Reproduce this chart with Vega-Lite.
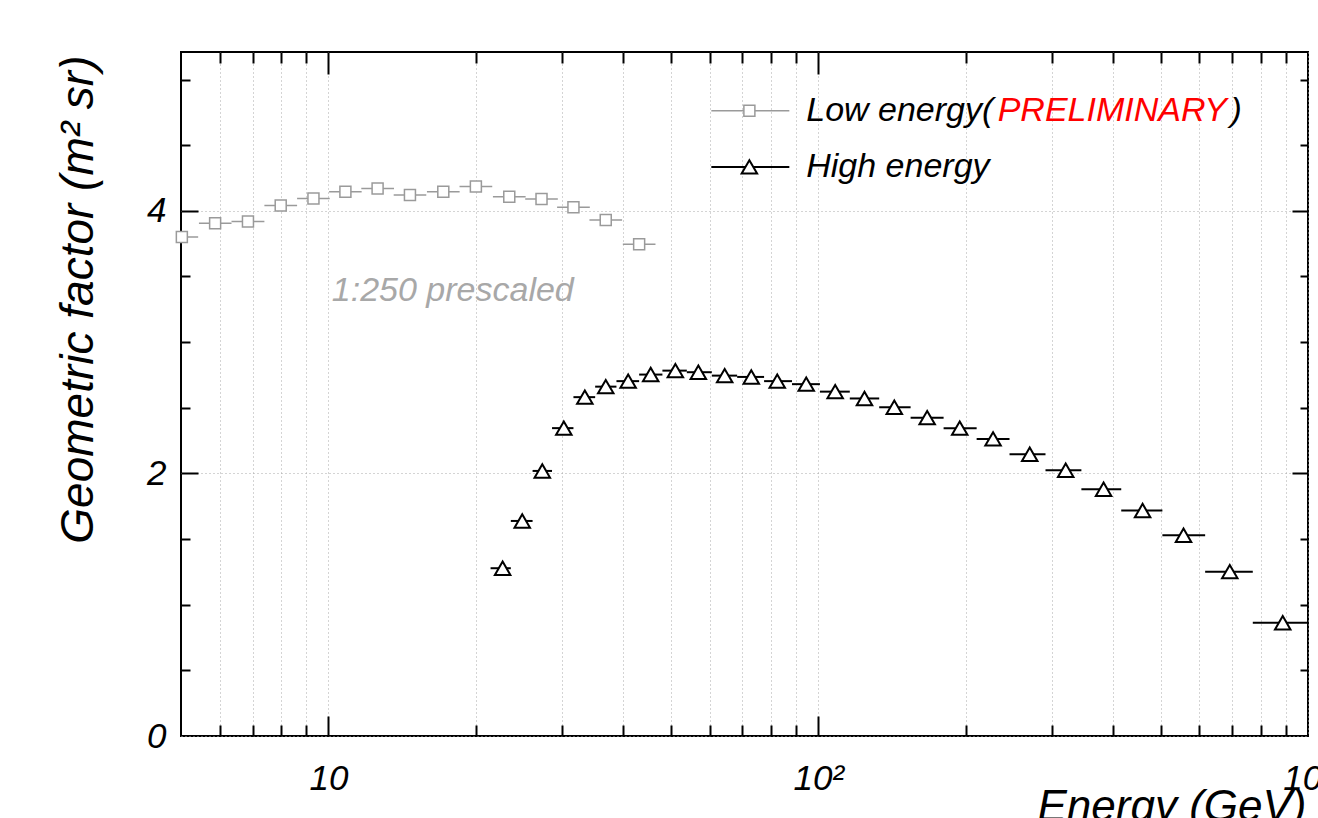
{
  "$schema": "https://vega.github.io/schema/vega-lite/v6.json",
  "autosize": {"type": "none"},
  "padding": {"left": 181, "top": 52, "right": 10, "bottom": 82},
  "width": 1127,
  "height": 684,
  "background": "white",
  "datasets": {
    "pts": [
      {"series": "Low", "e": 5.02, "lo": 4.65, "hi": 5.42, "g": 3.80},
      {"series": "Low", "e": 5.87, "lo": 5.44, "hi": 6.34, "g": 3.906},
      {"series": "Low", "e": 6.85, "lo": 6.34, "hi": 7.40, "g": 3.918},
      {"series": "Low", "e": 7.99, "lo": 7.40, "hi": 8.63, "g": 4.040},
      {"series": "Low", "e": 9.32, "lo": 8.63, "hi": 10.06, "g": 4.094},
      {"series": "Low", "e": 10.83, "lo": 10.03, "hi": 11.69, "g": 4.145},
      {"series": "Low", "e": 12.60, "lo": 11.67, "hi": 13.61, "g": 4.170},
      {"series": "Low", "e": 14.67, "lo": 13.59, "hi": 15.84, "g": 4.120},
      {"series": "Low", "e": 17.16, "lo": 15.89, "hi": 18.53, "g": 4.145},
      {"series": "Low", "e": 20.00, "lo": 18.52, "hi": 21.60, "g": 4.185},
      {"series": "Low", "e": 23.40, "lo": 21.67, "hi": 25.27, "g": 4.107},
      {"series": "Low", "e": 27.23, "lo": 25.22, "hi": 29.40, "g": 4.091},
      {"series": "Low", "e": 31.64, "lo": 29.30, "hi": 34.17, "g": 4.028},
      {"series": "Low", "e": 36.83, "lo": 34.11, "hi": 39.77, "g": 3.931},
      {"series": "Low", "e": 43.09, "lo": 39.91, "hi": 46.53, "g": 3.746},
      {"series": "High", "e": 22.68, "lo": 21.43, "hi": 23.57, "g": 1.278},
      {"series": "High", "e": 24.87, "lo": 23.57, "hi": 26.11, "g": 1.638},
      {"series": "High", "e": 27.33, "lo": 26.11, "hi": 28.61, "g": 2.019},
      {"series": "High", "e": 30.24, "lo": 28.61, "hi": 31.64, "g": 2.345},
      {"series": "High", "e": 33.38, "lo": 31.64, "hi": 35.04, "g": 2.581},
      {"series": "High", "e": 36.83, "lo": 35.04, "hi": 38.73, "g": 2.661},
      {"series": "High", "e": 40.92, "lo": 38.73, "hi": 43.09, "g": 2.703},
      {"series": "High", "e": 45.50, "lo": 43.09, "hi": 48.07, "g": 2.753},
      {"series": "High", "e": 51.09, "lo": 48.07, "hi": 53.92, "g": 2.783},
      {"series": "High", "e": 56.92, "lo": 53.92, "hi": 60.64, "g": 2.771},
      {"series": "High", "e": 64.42, "lo": 60.64, "hi": 68.31, "g": 2.745},
      {"series": "High", "e": 73.00, "lo": 68.31, "hi": 77.53, "g": 2.735},
      {"series": "High", "e": 82.48, "lo": 77.53, "hi": 88.40, "g": 2.703},
      {"series": "High", "e": 94.52, "lo": 88.40, "hi": 100.8, "g": 2.680},
      {"series": "High", "e": 108.3, "lo": 100.8, "hi": 116.0, "g": 2.623},
      {"series": "High", "e": 124.3, "lo": 116.0, "hi": 133.2, "g": 2.571},
      {"series": "High", "e": 143.0, "lo": 133.2, "hi": 154.4, "g": 2.504},
      {"series": "High", "e": 166.9, "lo": 154.4, "hi": 180.3, "g": 2.425},
      {"series": "High", "e": 194.5, "lo": 180.3, "hi": 210.6, "g": 2.345},
      {"series": "High", "e": 227.5, "lo": 210.6, "hi": 245.8, "g": 2.263},
      {"series": "High", "e": 270.3, "lo": 245.8, "hi": 291.1, "g": 2.146},
      {"series": "High", "e": 320.1, "lo": 291.1, "hi": 344.6, "g": 2.024},
      {"series": "High", "e": 382.5, "lo": 344.6, "hi": 415.6, "g": 1.880},
      {"series": "High", "e": 459.5, "lo": 415.6, "hi": 504.3, "g": 1.717},
      {"series": "High", "e": 557.0, "lo": 504.3, "hi": 616.6, "g": 1.529},
      {"series": "High", "e": 692.3, "lo": 616.6, "hi": 771.4, "g": 1.252},
      {"series": "High", "e": 888.0, "lo": 771.4, "hi": 1000, "g": 0.863}
    ],
    "legend": [
      {"series": "Low", "lx1": 60.5, "lx2": 87.3, "lxm": 72.35, "ly": 4.762},
      {"series": "High", "lx1": 60.5, "lx2": 87.3, "lxm": 72.35, "ly": 4.335}
    ],
    "legtext": [
      {"lx": 94.52, "ly": 4.762, "t": "Low energy(", "part": "label"},
      {"lx": 232.5, "ly": 4.762, "t": "PRELIMINARY", "part": "flag"},
      {"lx": 695.0, "ly": 4.762, "t": ")", "part": "label"},
      {"lx": 94.52, "ly": 4.335, "t": "High energy", "part": "label"}
    ],
    "note": [
      {"nx": 10.16, "ny": 3.39, "t": "1:250 prescaled"}
    ]
  },
  "resolve": {"axis": {"x": "independent", "y": "independent"}},
  "layer": [
    {
      "data": {"name": "pts"},
      "mark": {"type": "rule", "clip": true},
      "encoding": {
        "x": {"field": "lo", "type": "quantitative",
          "scale": {"type": "log", "domain": [5, 1000], "nice": false},
          "axis": {"orient": "bottom", "values": [10, 100, 1000], "ticks": false, "labels": true,
            "labelExpr": "datum.value == 10 ? '10' : datum.value == 100 ? '10²' : '10³'",
            "labelPadding": 25, "labelBaseline": "top", "labelFlush": false, "labelOverlap": false, "labelBound": false,
            "grid": true, "title": "Energy (GeV)", "titleX": 1125, "titleY": 84, "titleAlign": "right", "titleBaseline": "alphabetic"}},
        "x2": {"field": "hi"},
        "y": {"field": "g", "type": "quantitative",
          "scale": {"domain": [0, 5.21], "nice": false, "zero": false},
          "axis": {"orient": "left", "values": [0, 2, 4], "ticks": false, "labels": true,
            "labelPadding": 15, "labelAlign": "right", "labelBaseline": "middle", "labelOverlap": false, "labelFlush": false, "labelBound": false,
            "grid": true, "title": "Geometric factor (m²  sr)", "titleFontSize": 46, "titleAngle": -90, "titleX": -89, "titleY": 3, "titleAlign": "right", "titleBaseline": "alphabetic"}},
        "stroke": {"field": "series", "type": "nominal", "scale": {"domain": ["Low", "High"], "range": ["#9a9a9a", "#000000"]}, "legend": null},
        "strokeWidth": {"field": "series", "type": "nominal", "scale": {"domain": ["Low", "High"], "range": [1.5, 2]}, "legend": null}
      }
    },
    {
      "data": {"name": "pts"},
      "mark": {"type": "point", "filled": true, "fill": "white", "opacity": 1},
      "encoding": {
        "x": {"field": "e", "type": "quantitative",
          "scale": {"type": "log", "domain": [5, 1000], "nice": false},
          "axis": {"orient": "bottom", "values": [10, 100], "tickSize": -20, "labels": false, "grid": false, "title": null}},
        "y": {"field": "g", "type": "quantitative",
          "scale": {"domain": [0, 5.21], "nice": false, "zero": false},
          "axis": {"orient": "left", "values": [2, 4], "tickSize": -17, "labels": false, "grid": false, "title": null}},
        "stroke": {"field": "series", "type": "nominal", "scale": {"domain": ["Low", "High"], "range": ["#9a9a9a", "#000000"]}, "legend": null},
        "strokeWidth": {"field": "series", "type": "nominal", "scale": {"domain": ["Low", "High"], "range": [1.5, 2]}, "legend": null},
        "shape": {"field": "series", "type": "nominal", "scale": {"domain": ["Low", "High"], "range": ["square", "triangle-up"]}, "legend": null},
        "size": {"field": "series", "type": "nominal", "scale": {"domain": ["Low", "High"], "range": [121, 240]}, "legend": null}
      }
    },
    {
      "data": {"name": "note"},
      "mark": {"type": "text", "align": "left", "baseline": "middle", "font": "Liberation Sans", "fontStyle": "italic", "fontSize": 34, "color": "#a8a8a8"},
      "encoding": {
        "x": {"field": "nx", "type": "quantitative",
          "scale": {"type": "log", "domain": [5, 1000], "nice": false},
          "axis": {"orient": "bottom", "values": [6, 7, 8, 9, 20, 30, 40, 50, 60, 70, 80, 90, 200, 300, 400, 500, 600, 700, 800, 900], "tickSize": -11, "labels": false, "grid": true, "title": null}},
        "y": {"field": "ny", "type": "quantitative",
          "scale": {"domain": [0, 5.21], "nice": false, "zero": false},
          "axis": {"orient": "left", "values": [0.5, 1, 1.5, 2.5, 3, 3.5, 4.5, 5], "tickSize": -9, "labels": false, "grid": false, "title": null}},
        "text": {"field": "t"}
      }
    },
    {
      "data": {"name": "legend"},
      "mark": {"type": "rule"},
      "encoding": {
        "x": {"field": "lx1", "type": "quantitative",
          "scale": {"type": "log", "domain": [5, 1000], "nice": false},
          "axis": {"orient": "top", "values": [10, 100], "tickSize": -22, "labels": false, "grid": false, "title": null}},
        "x2": {"field": "lx2"},
        "y": {"field": "ly", "type": "quantitative",
          "scale": {"domain": [0, 5.21], "nice": false, "zero": false},
          "axis": {"orient": "right", "values": [2, 4], "tickSize": -16, "labels": false, "grid": false, "title": null}},
        "stroke": {"field": "series", "type": "nominal", "scale": {"domain": ["Low", "High"], "range": ["#9a9a9a", "#000000"]}, "legend": null},
        "strokeWidth": {"field": "series", "type": "nominal", "scale": {"domain": ["Low", "High"], "range": [1.5, 2]}, "legend": null}
      }
    },
    {
      "data": {"name": "legend"},
      "mark": {"type": "point", "filled": true, "fill": "white", "opacity": 1},
      "encoding": {
        "x": {"field": "lxm", "type": "quantitative",
          "scale": {"type": "log", "domain": [5, 1000], "nice": false},
          "axis": {"orient": "top", "values": [6, 7, 8, 9, 20, 30, 40, 50, 60, 70, 80, 90, 200, 300, 400, 500, 600, 700, 800, 900], "tickSize": -11, "labels": false, "grid": false, "title": null}},
        "y": {"field": "ly", "type": "quantitative",
          "scale": {"domain": [0, 5.21], "nice": false, "zero": false},
          "axis": {"orient": "right", "values": [0.5, 1, 1.5, 2.5, 3, 3.5, 4.5, 5], "tickSize": -8, "labels": false, "grid": false, "title": null}},
        "stroke": {"field": "series", "type": "nominal", "scale": {"domain": ["Low", "High"], "range": ["#9a9a9a", "#000000"]}, "legend": null},
        "strokeWidth": {"field": "series", "type": "nominal", "scale": {"domain": ["Low", "High"], "range": [1.5, 2]}, "legend": null},
        "shape": {"field": "series", "type": "nominal", "scale": {"domain": ["Low", "High"], "range": ["square", "triangle-up"]}, "legend": null},
        "size": {"field": "series", "type": "nominal", "scale": {"domain": ["Low", "High"], "range": [81, 110]}, "legend": null}
      }
    },
    {
      "data": {"name": "legtext"},
      "mark": {"type": "text", "align": "left", "baseline": "middle", "font": "Liberation Sans", "fontStyle": "italic", "fontSize": 34},
      "encoding": {
        "x": {"field": "lx", "type": "quantitative", "scale": {"type": "log", "domain": [5, 1000], "nice": false}, "axis": null},
        "y": {"field": "ly", "type": "quantitative", "scale": {"domain": [0, 5.21], "nice": false, "zero": false}, "axis": null},
        "text": {"field": "t"},
        "fill": {"field": "part", "type": "nominal", "scale": {"domain": ["label", "flag"], "range": ["#000000", "#ff0000"]}, "legend": null}
      }
    }
  ],
  "config": {
    "view": {"stroke": "#000000", "strokeWidth": 2},
    "axis": {
      "domain": false,
      "labelFont": "Liberation Sans", "labelFontStyle": "italic", "labelFontSize": 35, "labelColor": "#000000",
      "titleFont": "Liberation Sans", "titleFontStyle": "italic", "titleFontWeight": "normal", "titleFontSize": 44, "titleColor": "#000000",
      "tickColor": "#000000", "tickWidth": 2,
      "gridColor": "#a8a8a8", "gridDash": [1, 3], "gridWidth": 1
    }
  }
}
